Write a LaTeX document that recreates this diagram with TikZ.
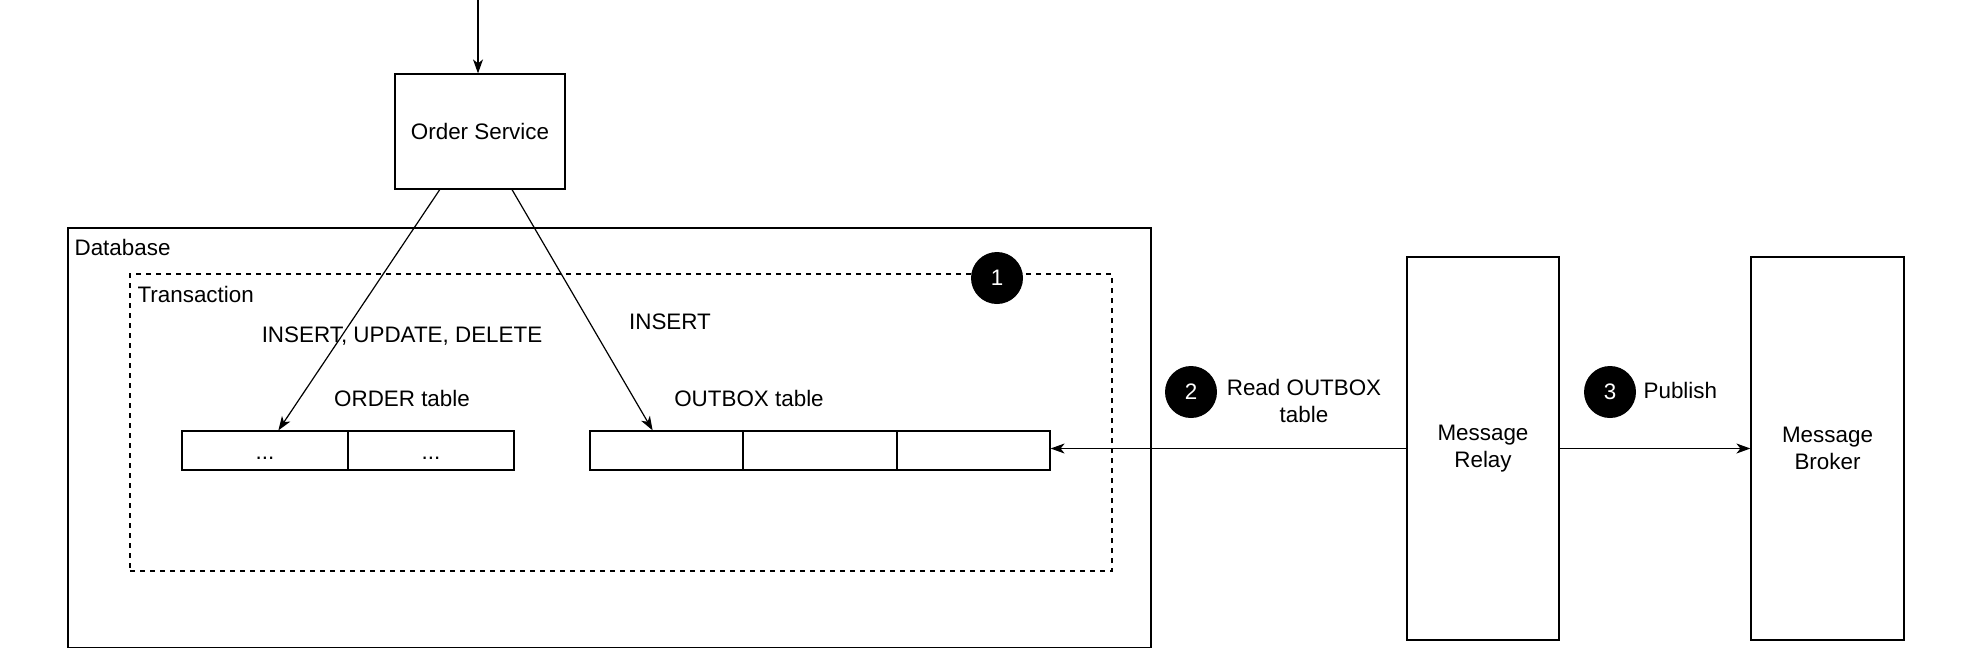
\documentclass[tikz,border=0pt]{standalone}
\usepackage{fontspec}
\setmainfont{Liberation Sans}
\usetikzlibrary{arrows.meta,calc}
\begin{document}
\begin{tikzpicture}[x=0.5pt,y=-0.5pt,
  every node/.style={font=\fontsize{11.2}{13.5}\selectfont},
  line width=0.6pt,
  box/.style={draw, rectangle, inner sep=0pt, line width=0.6pt},
  cell/.style={box, minimum height=19.5pt},
  badge/.style={circle, fill=black, text=white, minimum size=26pt, inner sep=0pt},
  lbl/.style={inner sep=0pt, align=center},
  arr/.style={-{Stealth[length=7pt,width=5pt,inset=2pt]}, line width=0.6pt},
  dashbox/.style={draw, dash pattern=on 2.5pt off 2.5pt, line width=0.6pt}
]
\useasboundingbox (0,0) rectangle (1964,670);
% containers
\node[box, minimum width=541.5pt, minimum height=209.8pt] (db) at (609.5,437.8) {};
\node[dashbox, inner sep=0pt, minimum width=491pt, minimum height=148.5pt] (tx) at (621,422.5) {};
\node[lbl, anchor=base west] (dbl) at (74,255) {Database};
\node[lbl, anchor=base west] (txl) at (137,302) {Transaction};
\node[badge] (c1) at (997,278) {1};
% order service
\node[box, minimum width=85pt, minimum height=57.5pt] (os) at (480,131.5) {Order Service};
\coordinate (top) at (478,0);
\draw[arr] (top) -- (top |- os.north);
% tables
\node[cell, minimum width=83pt] (o1) at (265,450.5) {};
\node[cell, minimum width=83pt] (o2) at (431,450.5) {};
\node[lbl] (d1) at (265,458) {...};
\node[lbl] (d2) at (431,458) {...};
\node[cell, minimum width=76.5pt] (x1) at (666.5,450.5) {};
\node[cell, minimum width=76.5pt] (x2) at (820,450.5) {};
\node[cell, minimum width=76.5pt] (x3) at (973.5,450.5) {};
\node[lbl, anchor=base] (iud) at (402,342) {INSERT, UPDATE, DELETE};
\node[lbl, anchor=base] (ins) at (670,329) {INSERT};
\node[lbl, anchor=base] (otl) at (402,406) {ORDER table};
\node[lbl, anchor=base] (xtl) at (749,406) {OUTBOX table};
\draw[arr] ($(os.south west)!0.265!(os.south east)$) -- ($(o1.north west)!0.58!(o1.north east)$);
\draw[arr] ($(os.south west)!0.687!(os.south east)$) -- ($(x1.north west)!0.41!(x1.north east)$);
% relay and broker
\node[box, minimum width=76pt, minimum height=191.5pt, align=center] (relay) at (1483,448.5) {Message\\Relay};
\node[box, minimum width=76.5pt, minimum height=191.5pt, align=center] (broker) at (1827.5,448.5) {Message\\Broker};
\draw[arr] (relay.west) -- (relay.west -| x3.east);
\draw[arr] (relay.east) -- (broker.west);
\node[badge] (c2) at (1191,392) {2};
\node[lbl] (rd) at (1304,401) {Read OUTBOX\\table};
\node[badge] (c3) at (1610,392) {3};
\node[lbl, anchor=west] (pub) at (1643,390) {Publish};
\end{tikzpicture}
\end{document}
